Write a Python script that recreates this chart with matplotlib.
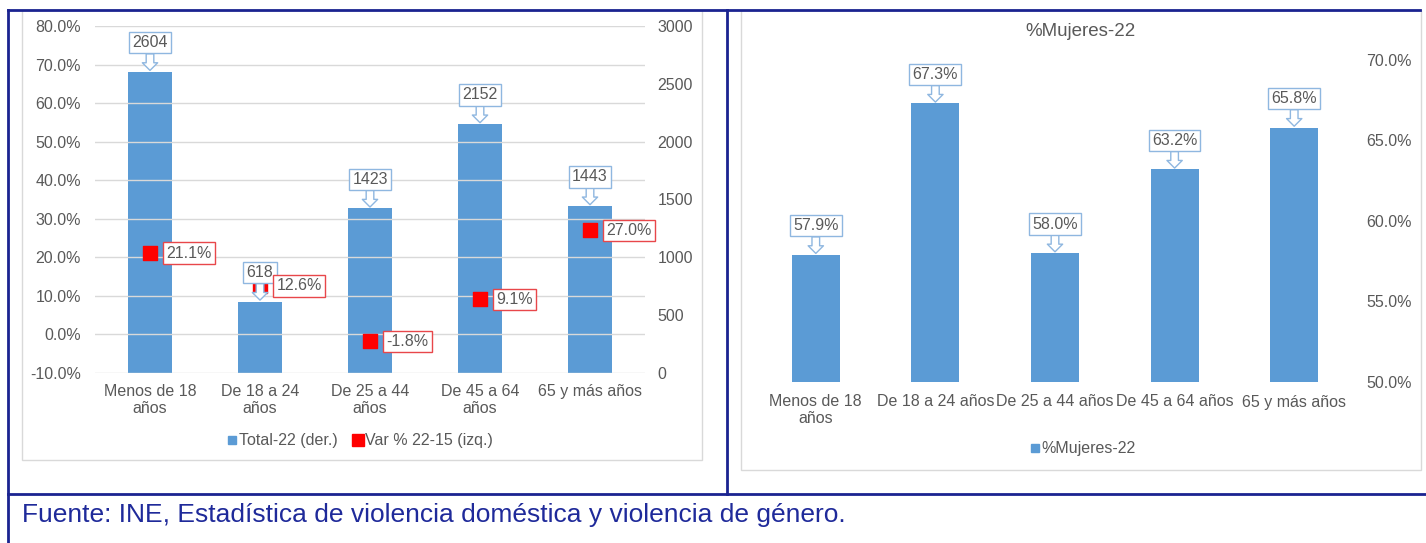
import numpy as np
import matplotlib.pyplot as plt
from matplotlib.lines import Line2D
from matplotlib.patches import Rectangle

plt.rcParams['font.family'] = ['Liberation Sans', 'DejaVu Sans']

# data
grupos_izq = ["Menos de 18\naños", "De 18 a 24\naños", "De 25 a 44\naños", "De 45 a 64\naños", "65 y más años"]
grupos_der = ["Menos de 18\naños", "De 18 a 24 años", "De 25 a 44 años", "De 45 a 64 años", "65 y más años"]
total_22 = [2604, 618, 1423, 2152, 1443]
var_22_15 = [21.1, 12.6, -1.8, 9.1, 27.0]
mujeres_22 = [57.9, 67.3, 58.0, 63.2, 65.8]

azul = '#5b9bd5'
rojo = '#ff0000'
gris = '#595959'
marino = '#1a2390'
fs = 11.5
W, H = 1426, 543

fig = plt.figure(figsize=(W / 100, H / 100), dpi=100)


def px_box(x0, y0, x1, y1):
    # pixel rectangle (top-left origin) -> figure fraction
    return [x0 / W, 1 - y1 / H, (x1 - x0) / W, (y1 - y0) / H]


def callout(ax, x, y, txt, coords='data'):
    ax.annotate(txt, xy=(x, y), xycoords=coords, xytext=(0, 21), textcoords='offset points',
                ha='center', va='center', fontsize=fs, color=gris,
                bbox=dict(boxstyle='square,pad=0.2', fc='white', ec='#8fb7e0', lw=1),
                arrowprops=dict(arrowstyle='simple,head_length=0.55,head_width=1.1,tail_width=0.55',
                                fc='white', ec='#8fb7e0', lw=1, shrinkA=0, shrinkB=1,
                                mutation_scale=10),
                zorder=5)


# panel frames
fig.add_artist(Rectangle((22 / W, 1 - 460 / H), 680 / W, 450 / H, transform=fig.transFigure,
                         fill=False, ec='#d9d9d9', lw=1))
fig.add_artist(Rectangle((741 / W, 1 - 470 / H), 680 / W, 460 / H, transform=fig.transFigure,
                         fill=False, ec='#d9d9d9', lw=1))
# table lines
for xs, ys in [((8, 1420), (10, 10)), ((8, 8), (10, 543)), ((727, 727), (10, 494)), ((8, 1426), (494, 494))]:
    fig.add_artist(Line2D([x / W for x in xs], [1 - y / H for y in ys], transform=fig.transFigure,
                          color=marino, lw=2))

# ---------- left chart ----------
x = np.arange(len(grupos_izq))
axl = fig.add_axes(px_box(95, 26, 645, 373))
axr = axl.twinx()
axl.set_ylim(-10, 80)
axl.set_yticks(np.arange(-10, 81, 10))
axl.set_yticklabels([f"{v:.1f}%" for v in np.arange(-10, 81, 10)])
axl.grid(axis='y', color='#d9d9d9', lw=1)
axl.set_axisbelow(True)
axr.set_ylim(0, 3000)
axr.set_yticks(np.arange(0, 3001, 500))
axr.bar(x, total_22, width=0.4, color=azul, zorder=2)
axl.set_zorder(axr.get_zorder() + 1)
axl.patch.set_visible(False)
axl.scatter(x, var_22_15, marker='s', s=110, color=rojo, zorder=4)
for xi, v in zip(x, total_22):
    callout(axl, xi, v, str(v), coords=axr.transData)
for xi, v in zip(x, var_22_15):
    axl.annotate(f"{v:.1f}%", xy=(xi, v), xytext=(12, 0), textcoords='offset points',
                 ha='left', va='center', fontsize=fs, color=gris,
                 bbox=dict(boxstyle='square,pad=0.2', fc='white', ec='#e8474a', lw=1), zorder=6)
axl.set_xlim(-0.5, 4.5)
axl.set_xticks(x)
axl.set_xticklabels(grupos_izq)
for a in (axl, axr):
    for s in a.spines.values():
        s.set_visible(False)
    a.tick_params(length=0, labelsize=fs, labelcolor=gris)
axl.tick_params(axis='y', pad=10)
axr.tick_params(axis='y', pad=9)
axl.tick_params(axis='x', pad=8)
for t in axl.get_xticklabels():
    t.set_linespacing(1.15)

fig.legend(handles=[Line2D([], [], marker='s', ls='', color=azul, markersize=6),
                    Line2D([], [], marker='s', ls='', color=rojo, markersize=8)],
           labels=['Total-22 (der.)', 'Var % 22-15 (izq.)'], loc='center',
           bbox_to_anchor=(360 / W, 1 - 441 / H), ncol=2, frameon=False, fontsize=fs,
           labelcolor=gris, handlelength=0.6, handletextpad=0.1, columnspacing=1.0)

# ---------- right chart ----------
ax2 = fig.add_axes(px_box(756, 60, 1354, 382))
ax2.bar(x, mujeres_22, width=0.4, color=azul)
ax2.set_ylim(50, 70)
ax2.set_xlim(-0.5, 4.5)
ax2.set_yticks(np.arange(50, 71, 5))
ax2.set_yticklabels([f"{v:.1f}%" for v in np.arange(50, 71, 5)])
ax2.yaxis.tick_right()
ax2.set_xticks(x)
ax2.set_xticklabels(grupos_der)
for s in ax2.spines.values():
    s.set_visible(False)
ax2.tick_params(length=0, labelsize=fs, labelcolor=gris)
ax2.tick_params(axis='y', pad=9)
ax2.tick_params(axis='x', pad=9)
for t in ax2.get_xticklabels():
    t.set_linespacing(1.15)
for xi, v in zip(x, mujeres_22):
    callout(ax2, xi, v, f"{v:.1f}%")
fig.text(1081 / W, 1 - 32 / H, '%Mujeres-22', ha='center', va='center', fontsize=13.5, color=gris)
fig.legend(handles=[Line2D([], [], marker='s', ls='', color=azul, markersize=6)],
           labels=['%Mujeres-22'], loc='center', bbox_to_anchor=(1083 / W, 1 - 449 / H),
           frameon=False, fontsize=fs, labelcolor=gris, handlelength=0.6, handletextpad=0.1)

# source
fig.text(22 / W, 1 - 515 / H, 'Fuente: INE, Estadística de violencia doméstica y violencia de género.',
         ha='left', va='center', fontsize=19, color='#1f2a9a')

fig.savefig('out.png', dpi=100)
